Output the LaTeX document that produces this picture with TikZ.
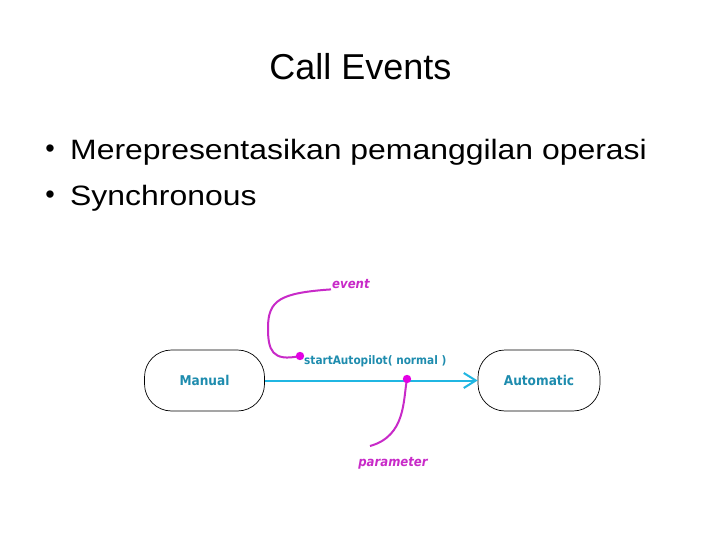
\documentclass[tikz,border=0pt]{standalone}
\usepackage{fontspec}
\setmainfont{Liberation Sans}
\newfontfamily\bulletfont[FakeStretch=1.14]{Liberation Sans}
\newfontfamily\diagfont[FakeStretch=0.9]{DejaVu Sans}
\usepackage{tikz}
\usepackage{xcolor}
\usetikzlibrary{arrows.meta}

\definecolor{statetext}{HTML}{1E8CAE}
\definecolor{flowcyan}{HTML}{20B6E2}
\definecolor{notemag}{HTML}{C82AC8}
\definecolor{dotmag}{HTML}{E400E4}

\tikzset{
  statebox/.style={draw,line width=0.7pt,rounded corners=27pt,minimum width=120pt,
    minimum height=61pt,font=\diagfont\bfseries\fontsize{13.5}{15}\selectfont,text=statetext},
  flow/.style={flowcyan,line width=2pt,-{Straight Barb[length=12pt,width=15pt,line width=2pt]}},
  note/.style={notemag,line width=2pt},
  notelabel/.style={inner sep=1pt,text=notemag,font=\diagfont\bfseries\itshape\fontsize{13}{15}\selectfont},
  item/.style={anchor=base west,inner sep=0pt,font=\bulletfont\fontsize{28}{32}\selectfont},
  itemdot/.style={inner sep=0pt,font=\fontsize{27}{30}\selectfont},
}

\begin{document}
\begin{tikzpicture}[x=1pt,y=-1pt]
\useasboundingbox[fill=white] (0,0) rectangle (720,540);
\node[anchor=base] (title) at (360.5,79.5) {\fontsize{36}{40}\selectfont Call Events};
\node[itemdot] (dot1) at (50,151) {•};
\node[item] (item1) at (70,160) {Merepresentasikan pemanggilan operasi};
\node[itemdot] (dot2) at (50,197) {•};
\node[item] (item2) at (70,206) {Synchronous};
% states
\node[statebox] (manual) at (204.5,380.5) {Manual};
\node[statebox,minimum width=122pt] (automatic) at (539,380.5) {Automatic};
\draw[flow] (manual) -- (automatic);
\node[anchor=base west,inner sep=0pt,text=statetext,font=\diagfont\bfseries\fontsize{11.7}{13}\selectfont] (call) at (304,364.5) {startAutopilot( normal )};
% notes
\node[notelabel,anchor=base west] (event) at (331,288) {event};
\node[notelabel,anchor=base] (param) at (393,466) {parameter};
\coordinate (evdot) at (300,356);
\coordinate (pardot) at (407,379);
\coordinate (partail) at (370,446);
\draw[note] (evdot) .. controls (272,362) and (268,350) .. (268,328) .. controls (268,300) and (280,293) .. (event.south west);
\draw[note] (pardot) .. controls (403,400) and (406,436) .. (partail);
\fill[dotmag] (evdot) circle (4.2);
\fill[dotmag] (pardot) circle (4.2);
\end{tikzpicture}
\end{document}
